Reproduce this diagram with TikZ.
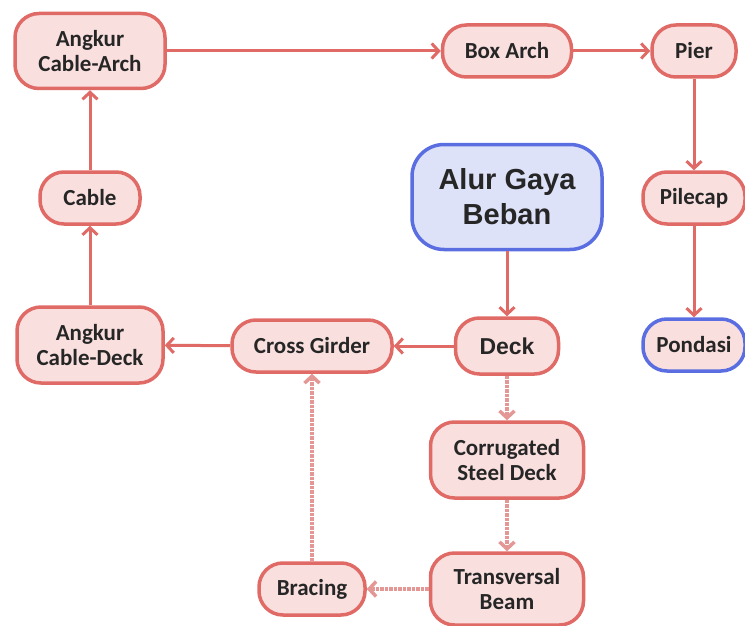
\documentclass[tikz,border=0pt]{standalone}
\usepackage{fontspec}
\setmainfont{Carlito}
\newfontfamily\headfont{Liberation Sans}
\usetikzlibrary{positioning,arrows.meta}
\definecolor{blockFill}{HTML}{F9E0DF}
\definecolor{blockBorder}{HTML}{E06A66}
\definecolor{startFill}{HTML}{DDE2F8}
\definecolor{startBorder}{HTML}{5A6EE2}
\definecolor{dotLine}{HTML}{E49896}
\definecolor{labelText}{HTML}{262626}

\begin{document}
\begin{tikzpicture}[
    x=1pt, y=-1pt,
    node distance=147pt, on grid,
    block/.style={
        rectangle, draw=blockBorder, fill=blockFill,
        minimum width=104pt, minimum height=52pt,
        align=center, inner sep=0pt,
        text=labelText, rounded corners=24pt,
        line width=3.5pt, font=\fontsize{23}{25}\selectfont\bfseries
    },
    arrow/.style={-{Straight Barb[length=7pt,width=15pt]}, line width=3pt, draw=blockBorder},
    dotarrow/.style={arrow, draw=dotLine, line width=3.5pt, densely dotted}
]
  \useasboundingbox (0,0) rectangle (745,626);

  % Top row
  \node[block, minimum width=150pt, minimum height=75pt] (arch) at (90,51) {Angkur\\Cable-Arch};
  \node[block, minimum width=129pt, right=417pt of arch] (boxarch) {Box Arch};
  \node[block, minimum width=84pt, right=187pt of boxarch] (pier) {Pier};

  % Second row
  \node[block, minimum width=100pt, below=of arch] (cable) {Cable};
  \node[block, fill=startFill, draw=startBorder, minimum width=190pt, minimum height=105pt,
      rounded corners=32pt, font=\headfont\fontsize{29}{35}\selectfont\bfseries,
      below=146pt of boxarch] (alur) {Alur Gaya\\Beban};
  \node[block, minimum width=102pt, below=of pier] (pilecap) {Pilecap};

  % Third row
  \node[block, minimum width=146pt, minimum height=76pt, below=of cable] (cabledeck) {Angkur\\Cable-Deck};
  \node[block, minimum width=103pt, minimum height=56pt,
      font=\headfont\fontsize{23}{25}\selectfont\bfseries, below=149pt of alur] (deck) {Deck};
  \node[block, minimum width=160pt, left=195pt of deck] (girder) {Cross Girder};
  \node[block, draw=startBorder, minimum width=102pt, below=of pilecap] (pondasi) {Pondasi};

  % Bottom part
  \node[block, minimum width=153pt, minimum height=76pt, below=114pt of deck] (corrugated) {Corrugated\\Steel Deck};
  \node[block, minimum width=153pt, minimum height=72pt, below=129pt of corrugated] (transversal) {Transversal\\Beam};
  \node[block, minimum width=106pt, left=195pt of transversal] (bracing) {Bracing};

  % Main load path
  \draw[arrow] (alur) -- (deck);
  \draw[arrow] (deck) -- (girder);
  \draw[arrow] (girder) -- (cabledeck);
  \draw[arrow] (cabledeck) -- (cable);
  \draw[arrow] (cable) -- (arch);
  \draw[arrow] (arch) -- (boxarch);
  \draw[arrow] (boxarch) -- (pier);
  \draw[arrow] (pier) -- (pilecap);
  \draw[arrow] (pilecap) -- (pondasi);

  % Secondary path (dotted)
  \draw[dotarrow] (deck) -- (corrugated);
  \draw[dotarrow] (corrugated) -- (transversal);
  \draw[dotarrow] (transversal) -- (bracing);
  \draw[dotarrow] (bracing) -- (girder);

\end{tikzpicture}
\end{document}
